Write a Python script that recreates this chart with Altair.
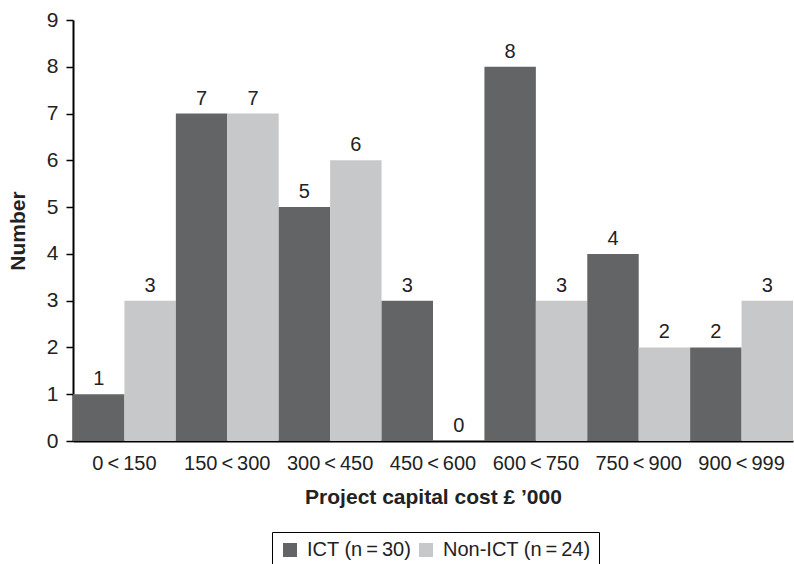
import altair as alt
import pandas as pd

categories = ["0\u2009<\u2009150", "150\u2009<\u2009300", "300\u2009<\u2009450", "450\u2009<\u2009600",
              "600\u2009<\u2009750", "750\u2009<\u2009900", "900\u2009<\u2009999"]
ict_counts = [1, 7, 5, 3, 8, 4, 2]
non_ict_counts = [3, 7, 6, 0, 3, 2, 3]
series_names = ["ICT (n\u2009=\u200930)", "Non-ICT (n\u2009=\u200924)"]
series_colors = ["#636466", "#c7c8ca"]
y_ticks = list(range(10))

rows = []
for c, a, b in zip(categories, ict_counts, non_ict_counts):
    rows.append({"cat": c, "series": series_names[0], "value": a})
    rows.append({"cat": c, "series": series_names[1], "value": b})
df = pd.DataFrame(rows)

FONT = "Liberation Sans"

x_enc = alt.X(
    "cat:N", sort=categories,
    scale=alt.Scale(paddingInner=0, paddingOuter=0),
    axis=alt.Axis(
        title="Project capital cost \u00a3 \u2019000", labelAngle=0, ticks=False,
        domainColor="black", domainWidth=2, labelFontSize=20, labelPadding=12,
        labelColor="#222", titleFontSize=21, titleFontWeight="bold",
        titlePadding=13, titleColor="#222", labelFont=FONT, titleFont=FONT,
    ),
)
y_enc = alt.Y(
    "value:Q",
    scale=alt.Scale(domain=[0, 9]),
    axis=alt.Axis(
        title="Number", values=y_ticks, tickSize=7, tickWidth=1.5, tickColor="black",
        domainColor="black", domainWidth=2, grid=False, labelFontSize=21,
        labelPadding=8, labelColor="#222", titleFontSize=21, titleFontWeight="bold",
        titlePadding=18, titleColor="#222", labelFont=FONT, titleFont=FONT,
    ),
)
xoff = alt.XOffset("series:N", sort=series_names,
                   scale=alt.Scale(paddingInner=0, paddingOuter=0))

bars = alt.Chart(df).mark_bar().encode(
    x=x_enc, y=y_enc, xOffset=xoff,
    color=alt.Color(
        "series:N",
        scale=alt.Scale(domain=series_names, range=series_colors),
        legend=alt.Legend(
            title=None, orient="none", legendX=199, legendY=512,
            direction="horizontal", symbolType="square", symbolSize=196,
            symbolStrokeWidth=0, labelFontSize=20, labelFont=FONT, labelColor="#222",
            strokeColor="black", fillColor="white", padding=8, columnPadding=4,
            labelOffset=7,
        ),
    ),
)

labels = alt.Chart(df).mark_text(
    baseline="alphabetic", dy=-9, fontSize=20, font=FONT, color="#222"
).encode(x=x_enc, y=y_enc, xOffset=xoff, text="value:Q")

chart = (bars + labels).properties(
    width=720, height=421,
    padding={"left": 73, "top": 20, "right": 1, "bottom": 123},
    autosize=alt.AutoSizeParams(type="none"),
).configure_view(stroke=None)

chart.save("out.html", embed_options={"renderer": "svg", "actions": False})
